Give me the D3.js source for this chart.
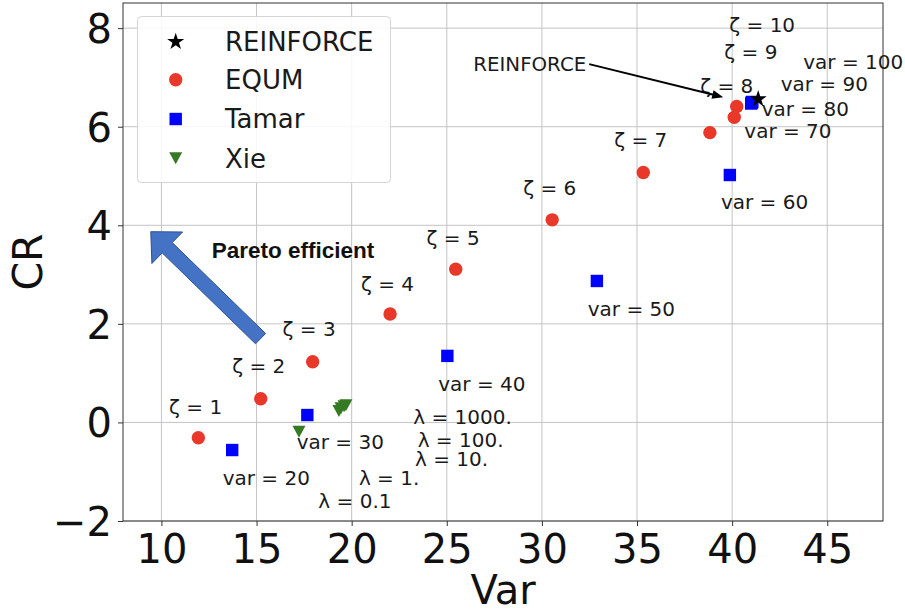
<!DOCTYPE html>
<html><head><meta charset="utf-8">
<script src="https://cdn.jsdelivr.net/npm/d3@7"></script>
<style>body{margin:0;background:#fff} svg{display:block}</style>
</head><body><svg id="c" width="905" height="613"></svg>
<script>
// ---------- data ----------
const xTicks = [10, 15, 20, 25, 30, 35, 40, 45];
const yTicks = [-2, 0, 2, 4, 6, 8];
const xDomain = [7.98, 47.93];
const yDomain = [-2, 8.51];

const seriesNames = ["REINFORCE", "EQUM", "Tamar", "Xie"];

const reinforceX = [41.37];
const reinforceY = [6.56];

const equmLabels = ["ζ = 1","ζ = 2","ζ = 3","ζ = 4","ζ = 5","ζ = 6","ζ = 7","ζ = 8","ζ = 9","ζ = 10"];
const equmX = [11.94, 15.22, 17.95, 22.02, 25.47, 30.54, 35.33, 38.83, 40.11, 40.24];
const equmY = [-0.31, 0.48, 1.23, 2.20, 3.11, 4.11, 5.07, 5.88, 6.19, 6.41];
const equmLabelX = [10.40, 13.72, 16.37, 20.49, 23.94, 29.02, 33.80, 38.32, 39.59, 39.85];
const equmLabelY = [0.32, 1.15, 1.89, 2.82, 3.74, 4.76, 5.73, 6.84, 7.52, 8.06];

const tamarLabels = ["var = 20","var = 30","var = 40","var = 50","var = 60","var = 70","var = 80","var = 90","var = 100"];
const tamarX = [13.72, 17.67, 25.03, 32.89, 39.88, 41.00, 41.03, 41.05, 41.05];
const tamarY = [-0.56, 0.15, 1.35, 2.87, 5.02, 6.47, 6.49, 6.50, 6.50];
const tamarLabelX = [13.22, 17.11, 24.55, 32.41, 39.41, 40.64, 41.55, 42.55, 43.74];
const tamarLabelY = [-1.12, -0.39, 0.79, 2.30, 4.48, 5.92, 6.37, 6.87, 7.32];

const xieLabels = ["λ = 0.1","λ = 1.","λ = 10.","λ = 100.","λ = 1000."];
const xieX = [17.23, 19.33, 19.44, 19.60, 19.70];
const xieY = [-0.19, 0.23, 0.29, 0.33, 0.35];
const xieLabelX = [18.25, 20.38, 23.33, 23.47, 23.24];
const xieLabelY = [-1.59, -1.13, -0.73, -0.36, 0.12];

const reinforceNoteText = "REINFORCE";
const reinforceNoteAt = [26.39, 7.27];
const reinforceNoteTip = [39.53, 6.60];

const paretoText = "Pareto efficient";
const paretoTextAt = [12.64, 3.50];
const paretoArrowTail = [15.21, 1.70];
const paretoArrowTip = [9.44, 3.87];

// ---------- layout ----------
const L = 123, R = 883, T = 3, B = 521;
const colors = {REINFORCE: "#000000", EQUM: "#e8382a", Tamar: "#0000ff", Xie: "#357a23"};
const svg = d3.select("#c");
const x = d3.scaleLinear().domain(xDomain).range([L, R]);
const y = d3.scaleLinear().domain(yDomain).range([B, T]);
const FONT = "DejaVu Sans, sans-serif";

// grid
const g = svg.append("g");
g.selectAll(".gx").data(xTicks).join("line")
  .attr("x1", d => x(d)).attr("x2", d => x(d)).attr("y1", T).attr("y2", B)
  .attr("stroke", "#c4c4c4").attr("stroke-width", 1);
g.selectAll(".gy").data(yTicks).join("line")
  .attr("x1", L).attr("x2", R).attr("y1", d => y(d)).attr("y2", d => y(d))
  .attr("stroke", "#c4c4c4").attr("stroke-width", 1);

// axes
const xAxis = d3.axisBottom(x).tickValues(xTicks).tickSize(5).tickPadding(6).tickFormat(d3.format("d"));
const yAxis = d3.axisLeft(y).tickValues(yTicks).tickSize(5).tickPadding(6).tickFormat(d => d < 0 ? "\u2212" + Math.abs(d) : d);
const gx = svg.append("g").attr("transform", `translate(0,${B})`).call(xAxis);
const gy = svg.append("g").attr("transform", `translate(${L},0)`).call(yAxis);
[gx, gy].forEach(a => {
  a.select(".domain").remove();
  a.selectAll("line").attr("stroke", "#333");
  a.selectAll("text").attr("font-family", FONT).attr("font-size", 40).attr("fill", "#111");
});
gx.selectAll("text").attr("dy", null).attr("y", 42);
gy.selectAll("text").attr("dy", "0.36em");

// frame
svg.append("rect").attr("x", L).attr("y", T).attr("width", R - L).attr("height", B - T)
  .attr("fill", "none").attr("stroke", "#333").attr("stroke-width", 1);

// axis labels
svg.append("text").attr("x", (L + R) / 2).attr("y", 604).attr("text-anchor", "middle")
  .attr("font-family", FONT).attr("font-size", 40).attr("fill", "#111").text("Var");
svg.append("text").attr("transform", `translate(42,${(T + B) / 2}) rotate(-90)`).attr("text-anchor", "middle")
  .attr("font-family", FONT).attr("font-size", 41).attr("fill", "#111").text("CR");

// marker shapes
function starPath(ro) {
  const ri = ro * 0.381966; let p = "";
  for (let i = 0; i < 10; i++) {
    const r = i % 2 ? ri : ro, a = -Math.PI / 2 + i * Math.PI / 5;
    p += (i ? "L" : "M") + (r * Math.cos(a)).toFixed(2) + "," + (r * Math.sin(a)).toFixed(2);
  }
  return p + "Z";
}
const markers = {
  REINFORCE: starPath(9),
  EQUM: d3.symbol(d3.symbolCircle, Math.PI * 6.7 * 6.7)(),
  Tamar: "M-6.2,-6.2L6.2,-6.2L6.2,6.2L-6.2,6.2Z",
  Xie: "M-6.5,-6L6.5,-6L0,6Z"
};

const pts = svg.append("g");
function drawSeries(name, xs, ys) {
  pts.append("g").selectAll("path").data(xs.map((v, i) => [v, ys[i]])).join("path")
    .attr("d", markers[name]).attr("fill", colors[name])
    .attr("transform", d => `translate(${x(d[0])},${y(d[1])})`);
}
drawSeries("EQUM", equmX, equmY);
drawSeries("Tamar", tamarX, tamarY);
drawSeries("Xie", xieX, xieY);
drawSeries("REINFORCE", reinforceX, reinforceY);

// point labels
const lab = svg.append("g").attr("font-family", FONT).attr("font-size", 20).attr("fill", "#1a1a1a");
function drawLabels(texts, lx, ly) {
  lab.append("g").selectAll("text").data(texts).join("text")
    .attr("x", (d, i) => x(lx[i])).attr("y", (d, i) => y(ly[i])).attr("dy", "0.36em").text(d => d);
}
drawLabels(equmLabels, equmLabelX, equmLabelY);
drawLabels(tamarLabels, tamarLabelX, tamarLabelY);
drawLabels(xieLabels, xieLabelX, xieLabelY);

// REINFORCE annotation
svg.append("text").attr("x", x(reinforceNoteAt[0])).attr("y", y(reinforceNoteAt[1])).attr("dy", "0.36em")
  .attr("font-family", FONT).attr("font-size", 19).attr("fill", "#1a1a1a").attr("textLength", 113)
  .attr("lengthAdjust", "spacingAndGlyphs").text(reinforceNoteText);
{
  const x0 = x(reinforceNoteAt[0]) + 116, y0 = y(reinforceNoteAt[1]);
  const x1 = x(reinforceNoteTip[0]), y1 = y(reinforceNoteTip[1]);
  const len = Math.hypot(x1 - x0, y1 - y0), ux = (x1 - x0) / len, uy = (y1 - y0) / len;
  const hl = 11, hw = 4.5;
  const bx = x1 - ux * hl, by = y1 - uy * hl;
  svg.append("line").attr("x1", x0).attr("y1", y0).attr("x2", bx + ux * 2).attr("y2", by + uy * 2)
    .attr("stroke", "#000").attr("stroke-width", 2);
  svg.append("path").attr("d", `M${x1},${y1}L${bx - uy * hw},${by + ux * hw}L${bx + uy * hw},${by - ux * hw}Z`)
    .attr("fill", "#000");
}

// Pareto arrow (block arrow)
{
  const tx = x(paretoArrowTail[0]), ty = y(paretoArrowTail[1]);
  const px = x(paretoArrowTip[0]), py = y(paretoArrowTip[1]);
  const len = Math.hypot(px - tx, py - ty), ux = (px - tx) / len, uy = (py - ty) / len;
  const nx = -uy, ny = ux, sw = 7.2, hw = 22, hl = 23;
  const bx = px - ux * hl, by = py - uy * hl;
  const P = [
    [tx + nx * sw, ty + ny * sw], [bx + nx * sw, by + ny * sw], [bx + nx * hw, by + ny * hw],
    [px, py], [bx - nx * hw, by - ny * hw], [bx - nx * sw, by - ny * sw], [tx - nx * sw, ty - ny * sw]
  ];
  svg.append("path").attr("d", "M" + P.map(p => p.join(",")).join("L") + "Z")
    .attr("fill", "#4472c4").attr("stroke", "#2f528f").attr("stroke-width", 1);
}
svg.append("text").attr("x", x(paretoTextAt[0])).attr("y", y(paretoTextAt[1])).attr("dy", "0.36em")
  .attr("font-family", "Liberation Sans, Arial, sans-serif").attr("font-weight", "bold").attr("font-size", 22.5)
  .attr("fill", "#111").text(paretoText);

// legend
const lg = svg.append("g");
lg.append("rect").attr("x", 137.5).attr("y", 16.5).attr("width", 253).attr("height", 166).attr("rx", 4)
  .attr("fill", "#fff").attr("fill-opacity", 0.85).attr("stroke", "#d5d5d5").attr("stroke-width", 1);
const legendY = [41.7, 79.8, 119, 158.3];
seriesNames.forEach((s, i) => {
  lg.append("path").attr("d", markers[s]).attr("fill", colors[s])
    .attr("transform", `translate(175.7,${legendY[i]})`);
  lg.append("text").attr("x", 225).attr("y", legendY[i]).attr("dy", "0.36em")
    .attr("font-family", FONT).attr("font-size", 26).attr("fill", "#1a1a1a").text(s);
});
</script></body></html>
